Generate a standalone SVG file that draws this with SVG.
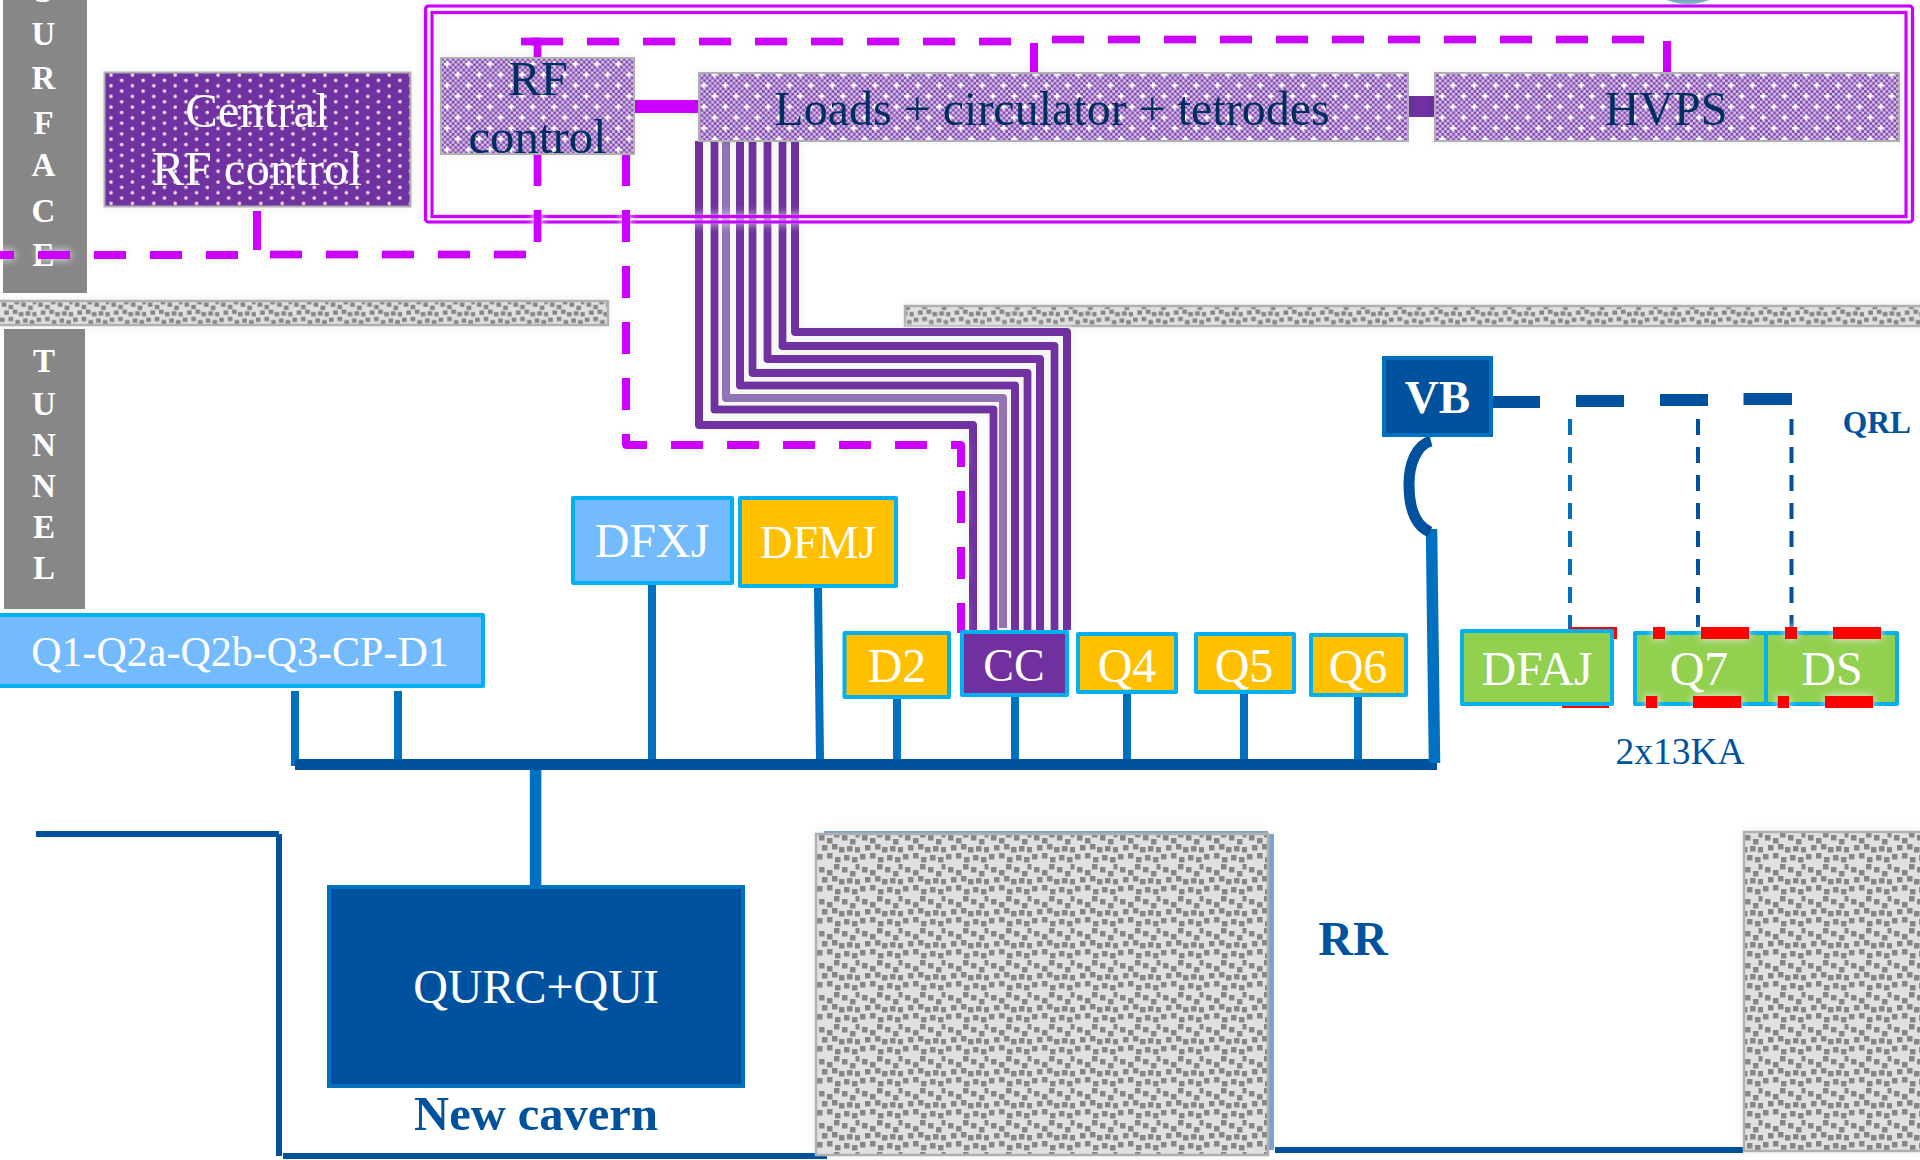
<svg xmlns="http://www.w3.org/2000/svg" width="1920" height="1160" viewBox="0 0 1920 1160">
<style>
text{font-family:"Liberation Serif","Times New Roman",serif;text-anchor:middle}
.w{fill:#fff}.n{fill:#002F5F}.b{fill:#00529F}.bold{font-weight:700}
.f47{font-size:48px}.f49{font-size:48.800px}.f46{font-size:46px}.f31{font-size:33px;font-weight:700;fill:#fff}
.c{stroke:#00B0F0;stroke-width:4;stroke-linejoin:round}
.y{fill:#FFC000}.sky{fill:#73BAFF}.g{fill:#92D050}
.mag{fill:none;stroke:#CC00FF;stroke-width:8}
.dash{stroke-dasharray:32 24}
.frame{fill:none;stroke:#CC00FF;stroke-width:3.500}
.pur{fill:none;stroke:#7030A0;stroke-width:8;stroke-linejoin:round}
.bus{fill:none;stroke:#0070C0;stroke-width:8}
.thin{fill:none;stroke-width:4;stroke-dasharray:16 12}
.red{fill:#FF0000}
.hatch{stroke:#B0B0B0;stroke-width:2.500}
.gray{fill:#878787}
</style>
<defs>
<filter id="halo" filterUnits="userSpaceOnUse" x="0" y="0" width="1920" height="1160"><feDropShadow dx="0" dy="0" stdDeviation="4" flood-color="#eeeeee" flood-opacity="1"/></filter>
<filter id="soft" filterUnits="userSpaceOnUse" x="0" y="0" width="1920" height="1160"><feDropShadow dx="0" dy="0" stdDeviation="5" flood-color="#000" flood-opacity="0.07"/></filter>
<pattern id="dots" patternUnits="userSpaceOnUse" x="104" y="72" width="21.400" height="10.700">
<rect width="21.400" height="10.700" fill="#7030A0"/>
<circle cx="7" cy="3" r="1.800" fill="#EADFF2"/><circle cx="17.700" cy="8.300" r="1.800" fill="#EADFF2"/>
</pattern>
<pattern id="check" patternUnits="userSpaceOnUse" width="5.350" height="5.350">
<rect width="5.350" height="5.350" fill="#D9C8E8"/>
<rect x="0" y="0" width="2.670" height="2.670" fill="#8144B0"/><rect x="2.670" y="2.670" width="2.670" height="2.670" fill="#8144B0"/>
</pattern>
<pattern id="star" patternUnits="userSpaceOnUse" x="441" y="58" width="21.400" height="21.400">
<rect width="21.400" height="21.400" fill="url(#check)"/>
<path d="M5 2.800h2v2h2v2h-2v2h-2v-2h-2v-2h2z" fill="#fff"/>
<path d="M15.700 13.500h2v2h2v2h-2v2h-2v-2h-2v-2h2z" fill="#fff"/>
</pattern>
<pattern id="rock" patternUnits="userSpaceOnUse" width="43" height="32">
<rect width="43" height="32" fill="#E0E0E0"/>
<g fill="#868686">
<rect x="2" y="3" width="5.500" height="5.500"/><rect x="10" y="6" width="5.500" height="5.500"/><rect x="17" y="0" width="5.500" height="5.500"/><rect x="25" y="3" width="5.500" height="5.500"/><rect x="33" y="7" width="5.500" height="5.500"/><rect x="38.500" y="0" width="4" height="5.500"/>
<rect x="5" y="13" width="5.500" height="5.500"/><rect x="15" y="12" width="5.500" height="5.500"/><rect x="22" y="15" width="5.500" height="5.500"/><rect x="30" y="14" width="5.500" height="5.500"/><rect x="38" y="15" width="5" height="5.500"/>
<rect x="0" y="22" width="5.500" height="5.500"/><rect x="10" y="21" width="5.500" height="5.500"/><rect x="18" y="25" width="5.500" height="5.500"/><rect x="27" y="23" width="5.500" height="5.500"/><rect x="35" y="25" width="5.500" height="5.500"/>
</g>
</pattern>
<pattern id="rockbar" patternUnits="userSpaceOnUse" width="43" height="32" patternTransform="translate(0 300) scale(.85 .8)">
<rect width="43" height="32" fill="url(#rock)"/>
</pattern>
</defs>
<rect width="1920" height="1160" fill="#fff"/>

<ellipse id="top-fragment" cx="1688" cy="-7" rx="27" ry="11" fill="#5E9FB8"/>

<g id="surface">
<rect class="gray" x="3" y="-2" width="84" height="295"/>
<text class="f31" x="43.500" y="2">S</text><text class="f31" x="43.500" y="45">U</text><text class="f31" x="43.500" y="89">R</text><text class="f31" x="43.500" y="134">F</text><text class="f31" x="43.500" y="176">A</text><text class="f31" x="43.500" y="222">C</text><text class="f31" x="43.500" y="266">E</text>
</g>
<g id="tunnel">
<rect class="gray" x="4" y="329" width="81" height="280"/>
<text class="f31" x="44" y="372">T</text><text class="f31" x="44" y="415">U</text><text class="f31" x="44" y="456">N</text><text class="f31" x="44" y="497">N</text><text class="f31" x="44" y="538">E</text><text class="f31" x="44" y="579">L</text>
</g>

<g id="walls" filter="url(#soft)">
<rect class="hatch" x="-3" y="301" width="611" height="24" fill="url(#rockbar)"/>
<rect class="hatch" x="905" y="306" width="1020" height="20" fill="url(#rockbar)"/>
</g>

<g id="connectors">
<g filter="url(#halo)">
<path class="pur" d="M699 141V425H973V630"/>
<path class="pur" d="M714.500 141V409.500H993.500V630"/>
<path class="pur" opacity=".8" d="M726 141V398H1003V628"/>
<path class="pur" d="M740 141V385.500H1015V630"/>
<path class="pur" d="M752.500 141V373H1027.500V630"/>
<path class="pur" d="M767.500 141V359H1040V634"/>
<path class="pur" d="M782.500 141V346H1054.500V630"/>
<path class="pur" d="M795 141V332H1067V630"/>
</g>
<g id="frame" filter="url(#halo)">
<rect class="frame" x="425.500" y="6" width="1487" height="216" rx="3"/>
<rect class="frame" x="432" y="12.500" width="1474" height="204"/>
</g>
<g filter="url(#halo)">
<path class="mag dash" d="M-18 255H238"/>
<path class="mag dash" d="M270 254.500H526"/>
<path class="mag" d="M257 211V250"/>
<path class="mag dash" d="M537.500 242V42"/>
<path class="mag" d="M521 41.500H541"/>
<path class="mag dash" d="M531 41.500H1012"/>
<path class="mag dash" d="M1052 39.500H1645"/>
<path class="mag" d="M1034 43V77"/>
<path class="mag" d="M1667 41V73"/>
<path class="mag dash" stroke-linejoin="round" d="M626 154V445H961V633"/>
</g>
<path d="M634 100H699V113H634Z" fill="#CC00FF"/>
<rect x="1408" y="96" width="27" height="21" fill="#7030A0"/>

<g id="power">
<path class="bus" d="M295 691V766"/><path class="bus" d="M398 691V763"/>
<path class="bus" d="M652 585V760"/><path class="bus" d="M818 588L820 760"/>
<path class="bus" d="M897 699V769"/><path class="bus" d="M1015 697V765"/>
<path class="bus" d="M1127 694V763"/><path class="bus" d="M1244 694V763"/><path class="bus" d="M1358 697V763"/>
<path fill="none" stroke="#0070C0" stroke-width="11.500" d="M535.600 770V885"/>
<rect x="295" y="759" width="1142" height="11" fill="#00529F"/>
<path fill="none" stroke="#0070C0" stroke-width="11.500" d="M1431.500 529L1434.500 763"/>
<path fill="none" stroke="#00529F" stroke-width="11" d="M1431 441C1416 445 1409 465 1409 484C1409 505 1414 525 1430 532"/>
</g>
<g id="qrl">
<path fill="#00529F" d="M1493 396H1540V408H1493ZM1576 395H1624V407H1576ZM1660 394H1708V406H1660ZM1743.500 393H1792V405H1743.500Z"/>
<path class="thin" stroke="#0070C0" d="M1570 419V630"/>
<path class="thin" stroke="#00529F" d="M1698 419V627"/>
<path class="thin" stroke="#00529F" d="M1791.500 419V627"/>
</g>
<g id="cavern" fill="#00529F">
<rect x="36" y="831" width="243" height="6"/><rect x="276" y="834" width="6" height="322"/>
<rect x="283" y="1153" width="544" height="6"/><rect x="1275" y="1147" width="468" height="6"/>
<rect x="824" y="831" width="444" height="3" fill="#7BA7D0"/><rect x="1268" y="834" width="6" height="316" fill="#7BA7D0"/>
</g>
</g>

<g id="block-left" filter="url(#soft)"><rect class="hatch" x="816" y="834" width="452" height="321" fill="url(#rock)"/></g>
<g id="block-right" filter="url(#soft)"><rect class="hatch" x="1744" y="832" width="180" height="319" fill="url(#rock)"/></g>

<g id="central-rf" filter="url(#soft)">
<rect x="104.500" y="72.500" width="306" height="134" fill="url(#dots)" stroke="#B0B0B0" stroke-width="2"/>
<text class="w f49" x="257" y="127">Central</text><text class="w f49" x="257" y="185">RF control</text>
</g>
<g id="rf-control" filter="url(#soft)">
<rect x="441" y="58" width="193" height="96" fill="url(#star)" stroke="#B0B0B0" stroke-width="2"/>
<text class="n f49" x="538" y="95">RF</text><text class="n f49" x="537.500" y="153">control</text>
</g>
<g id="loads" filter="url(#soft)">
<rect x="699" y="73" width="709" height="68" fill="url(#star)" stroke="#B0B0B0" stroke-width="2"/>
<text class="n" font-size="48" x="1052" y="125">Loads + circulator + tetrodes</text>
</g>
<g id="hvps" filter="url(#soft)">
<rect x="1435" y="73" width="464" height="68" fill="url(#star)" stroke="#B0B0B0" stroke-width="2"/>
<text class="n f47" x="1666" y="125">HVPS</text>
</g>

<g id="q1"><rect class="c sky" x="-2" y="615" width="485" height="71"/><text class="w" font-size="42" x="240" y="666">Q1-Q2a-Q2b-Q3-CP-D1</text></g>
<g id="dfxj"><rect class="c sky" x="573" y="498" width="159" height="85"/><text class="w f47" x="652" y="557">DFXJ</text></g>
<g id="dfmj"><rect class="c y" x="740" y="498" width="156" height="88"/><text class="w" font-size="45.500" x="818" y="558">DFMJ</text></g>
<g id="d2"><rect class="c y" x="844.500" y="633" width="104.500" height="64"/><text class="w f47" x="897" y="682">D2</text></g>
<g id="cc"><rect class="c" x="962" y="632" width="105" height="63" fill="#7030A0"/><text class="w f46" x="1014" y="681">CC</text></g>
<g id="q4"><rect class="c y" x="1078" y="634" width="98" height="58"/><text class="w f47" x="1127" y="682">Q4</text></g>
<g id="q5"><rect class="c y" x="1196" y="634" width="98" height="58"/><text class="w f47" x="1244" y="682">Q5</text></g>
<g id="q6"><rect class="c y" x="1311" y="635" width="95" height="60"/><text class="w f47" x="1358" y="683">Q6</text></g>

<path class="red" d="M1569 627H1617V639H1569ZM1562 700H1609V708H1562Z"/>
<g id="dfaj"><rect class="c g" x="1462" y="631" width="150" height="73"/><text class="w" font-size="48" x="1537" y="685">DFAJ</text></g>
<g id="q7"><rect class="c g" x="1635" y="633" width="131" height="71"/><text class="w f47" x="1699" y="685">Q7</text></g>
<g id="ds"><rect class="c g" x="1766" y="633" width="131" height="71"/><text class="w f47" x="1832" y="685">DS</text></g>
<path class="red" filter="url(#halo)" d="M1653 627H1665V639H1653ZM1701 627H1749V639H1701ZM1785 627H1797V639H1785ZM1833 627H1881V639H1833ZM1646 696H1657.500V708H1646ZM1693 696H1741.500V708H1693ZM1777.500 696H1789V708H1777.500ZM1825 696H1873V708H1825Z"/>

<g id="vb"><rect x="1384" y="358" width="107" height="77" fill="#00529F" stroke="#0070C0" stroke-width="4"/><text class="w bold" font-size="47" x="1437.500" y="413">VB</text></g>
<g id="qurc"><rect x="329" y="887" width="414" height="199" fill="#00529F" stroke="#0070C0" stroke-width="4"/><text class="w f47" x="536" y="1003">QURC+QUI</text></g>

<text class="b bold" font-size="48.500" x="536" y="1130">New cavern</text>
<text class="b bold f47" x="1353" y="955">RR</text>
<text class="b bold" font-size="31.500" x="1877" y="433">QRL</text>
<text class="b" font-size="37.500" x="1680" y="764">2x13KA</text>
</svg>
